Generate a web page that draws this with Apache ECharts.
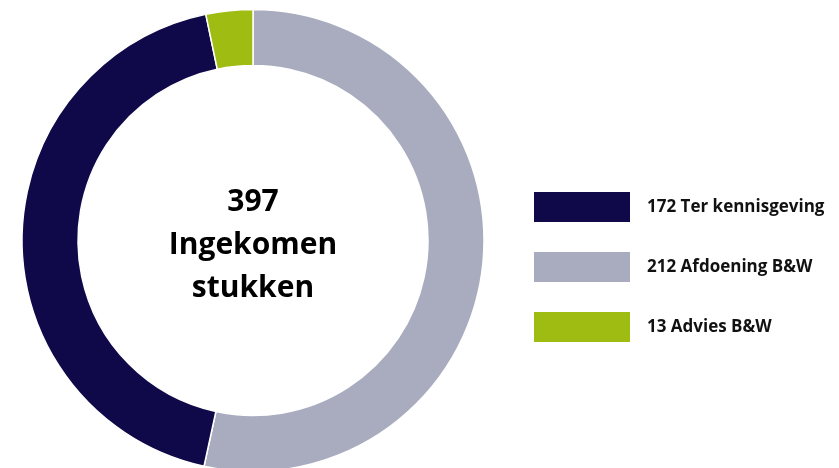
<!DOCTYPE html>
<html>
<head>
<meta charset="utf-8">
<script src="https://cdn.jsdelivr.net/npm/echarts@6/dist/echarts.min.js"></script>
<style>
  html, body { margin: 0; padding: 0; background: #fff; }
  #main { width: 839px; height: 468px; }
</style>
</head>
<body>
<div id="main"></div>
<script>
// data, in pie order (clockwise from 12 o'clock)
var categories = ['212 Afdoening B&W', '172 Ter kennisgeving', '13 Advies B&W'];
var values = [212, 172, 13];
var colors = ['#A9ACBF', '#0F0949', '#9EBC12'];
var legendOrder = ['172 Ter kennisgeving', '212 Afdoening B&W', '13 Advies B&W'];
var total = 397;

var chart = echarts.init(document.getElementById('main'), null, { renderer: 'canvas' });

var font = '"Open Sans", "Noto Sans", sans-serif';

var option = {
  backgroundColor: '#ffffff',
  animation: false,
  color: colors,
  legend: {
    orient: 'vertical',
    left: 532,
    top: 190,
    padding: 0,
    itemWidth: 98,
    itemHeight: 32,
    itemGap: 26,
    icon: 'rect',
    data: legendOrder,
    textStyle: {
      color: '#111',
      fontFamily: font,
      fontWeight: 'bold',
      fontSize: 17,
      padding: [0, 0, 0, 11]
    }
  },
  graphic: [{
    type: 'text',
    x: 253,
    y: 245,
    z: 100,
    style: {
      text: total + '\nIngekomen\nstukken',
      fill: '#000',
      font: 'bold 30px ' + font,
      lineHeight: 43,
      textAlign: 'center',
      textVerticalAlign: 'middle'
    }
  }],
  series: [{
    type: 'pie',
    center: [253, 240.5],
    radius: [175, 231],
    startAngle: 90,
    clockwise: true,
    label: { show: false },
    labelLine: { show: false },
    emphasis: { disabled: true },
    itemStyle: { borderColor: '#fff', borderWidth: 1.5 },
    data: categories.map(function (c, i) {
      return { name: c, value: values[i] };
    })
  }]
};

chart.setOption(option);
</script>
</body>
</html>
